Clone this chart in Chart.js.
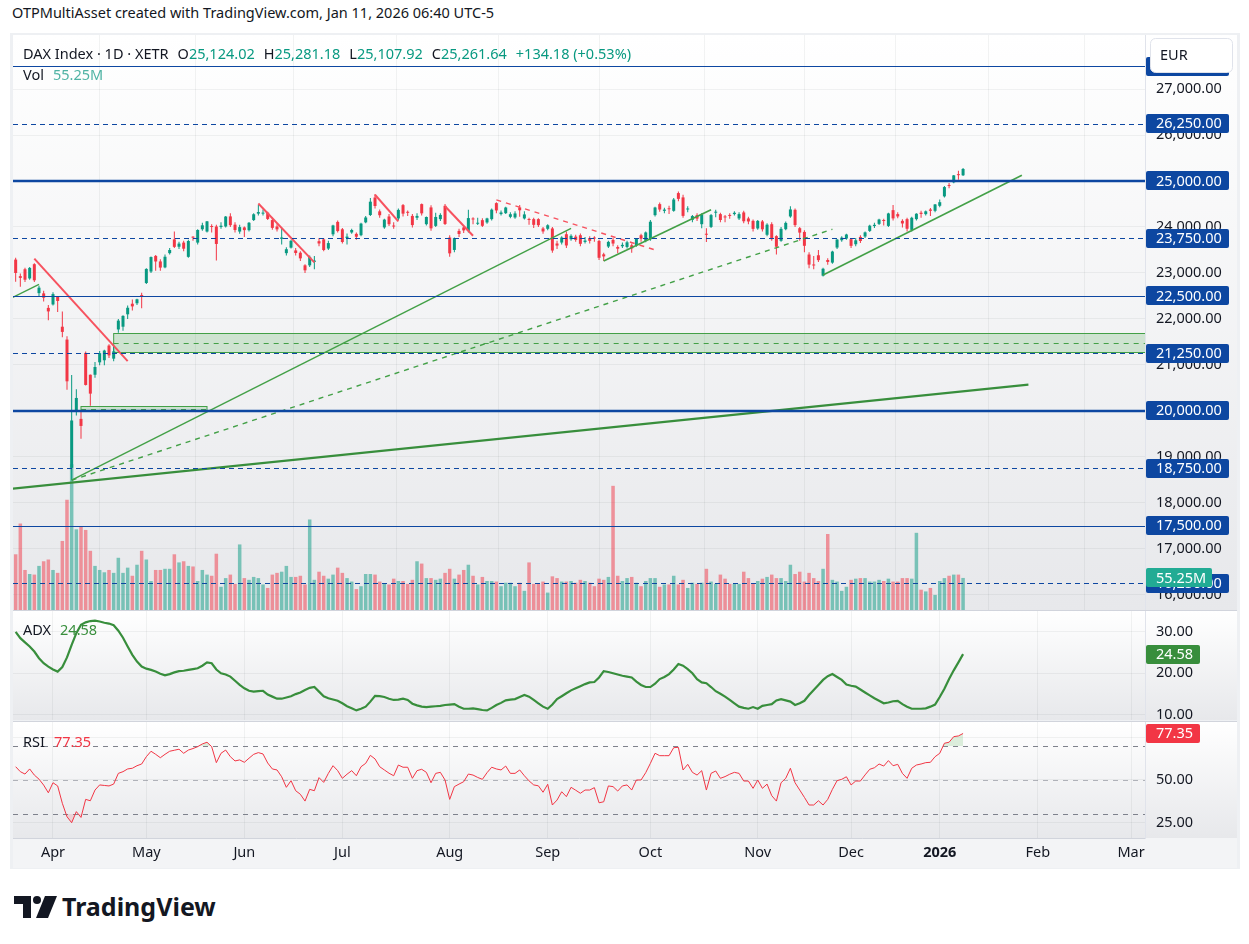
<!DOCTYPE html>
<html>
<head>
<meta charset="utf-8">
<title>DAX Index · 1D · XETR</title>
<script src="https://cdn.jsdelivr.net/npm/chart.js@4.4.1/dist/chart.umd.min.js"></script>
<style>
  html, body { margin: 0; padding: 0; background: #fff; }
  body { position: relative; width: 1249px; height: 944px; overflow: hidden;
         font-family: "Noto Sans", Roboto, sans-serif; color: #131722; }
  .txt { position: absolute; white-space: nowrap; line-height: 1; font-size: 14.5px; }
  .txt span { margin-left: 9px; }
  .txt span.v { margin-left: 0; }
  canvas { position: absolute; }
  .sep { position: absolute; left: 13px; width: 1224px; height: 1px; background: #d1d4dc; }
</style>
</head>
<body>
<div class="txt" style="left:12px; top:5px;">OTPMultiAsset created with TradingView.com, Jan 11, 2026 06:40 UTC-5</div>
<div style="position:absolute; left:10px; top:33px; width:1230px; height:836px; background:#eef0f3;"></div>

<canvas id="priceChart" width="1224" height="575" style="left:13px; top:35px; width:1224px; height:575px;"></canvas>
<div class="sep" style="top:610px;"></div>
<canvas id="adxChart" width="1224" height="109" style="left:13px; top:611px; width:1224px; height:109px;"></canvas>
<div class="sep" style="top:721px;"></div>
<canvas id="rsiChart" width="1224" height="146" style="left:13px; top:722px; width:1224px; height:146px;"></canvas>

<div class="txt" style="left:23px; top:46px;">DAX Index · 1D · XETR<span>O</span><span class="v" style="color:#089981">25,124.02</span><span>H</span><span class="v" style="color:#089981">25,281.18</span><span>L</span><span class="v" style="color:#089981">25,107.92</span><span>C</span><span class="v" style="color:#089981">25,261.64</span><span style="color:#089981">+134.18 (+0.53%)</span></div>
<div class="txt" style="left:23px; top:67px;">Vol<span style="color:#4fb3a4">55.25M</span></div>
<div class="txt" style="left:23px; top:622px;">ADX<span style="color:#388e3c">24.58</span></div>
<div class="txt" style="left:23px; top:734px;">RSI<span style="color:#f23645">77.35</span></div>

<svg style="position:absolute; left:14px; top:896px;" width="46" height="22" viewBox="0 0 46 22">
  <path d="M0 0h17v22h-8V8H0z" fill="#131722"/>
  <circle cx="23" cy="4" r="4" fill="#131722"/>
  <path d="M31 0h12l-9 22H22z" fill="#131722"/>
</svg>
<div class="txt" style="left:62px; top:894px; font-size:25px; font-weight:700;">TradingView</div>

<script>
// ---- data ----
var firstSession = '2025-03-20';
var closedDays = ['2025-04-18', '2025-04-21', '2025-05-01', '2025-12-24', '2025-12-25',
                  '2025-12-26', '2025-12-31', '2026-01-01'];
var monthNames = ['Jan', 'Feb', 'Mar', 'Apr', 'May', 'Jun', 'Jul', 'Aug', 'Sep', 'Oct', 'Nov', 'Dec'];

var opens = [
  23290, 22930, 23080, 22880, 23190, 22560, 22555, 22240, 22314, 22480,
  21830, 21550, 18760, 20000, 19825, 21260, 20785, 20785, 21055, 21100,
  21420, 21135, 21770, 21830, 22100, 22330, 22340, 22510, 22780, 23030,
  23370, 23250, 23120, 23430, 23730, 23570, 23660, 23350, 23780, 23660,
  23950, 23900, 24020, 24010, 24000, 24010, 24230, 24050, 23900, 23990,
  23930, 24150, 24290, 24290, 24310, 24150, 24010, 23740, 23430, 23550,
  23490, 23440, 23165, 23165, 23240, 23690, 23730, 23530, 23840, 24110,
  23950, 23760, 23880, 23850, 23820, 24100, 24260, 24640, 24340, 23990,
  24228, 24020, 24185, 24475, 24320, 24240, 24200, 24497, 24060, 24425,
  24023, 24170, 24460, 23770, 23500, 23914, 23990, 23914, 24170, 24070,
  24148, 24098, 24170, 24519, 24280, 24300, 24220, 24207, 24425, 24185,
  24170, 24170, 24170, 23967, 23960, 23967, 23640, 23661, 23842, 23733,
  23790, 23820, 23674, 23760, 23770, 23696, 23405, 23574, 23718, 23565,
  23580, 23565, 23602, 23602, 23820, 23696, 23733, 24257, 24497, 24350,
  24400, 24351, 24737, 24643, 24380, 24154, 24257, 24060, 23840, 24001,
  24310, 24279, 24220, 24250, 24280, 24185, 24316, 24185, 24133, 23967,
  24120, 23830, 24060, 23800, 23700, 23951, 24228, 24373, 23973, 23892,
  23400, 23180, 23384, 22940, 23281, 23224, 23552, 23711, 23748, 23733,
  23624, 23783, 23792, 23914, 24020, 24067, 24150, 24023, 24366, 24279,
  24133, 24170, 23936, 24170, 24310, 24279, 24380, 24351, 24460, 24665,
  24910, 24971, 25140, 25124.02
];
var highs = [
  23330, 22990, 23110, 23130, 23210, 22720, 22610, 22300, 22580, 22500,
  22160, 21620, 20780, 20470, 20020, 21290, 20790, 21060, 21300, 21330,
  21450, 21420, 22000, 22080, 22290, 22420, 22440, 22570, 23100, 23360,
  23390, 23300, 23400, 23540, 23900, 23680, 23700, 23720, 23800, 23950,
  24090, 24130, 24060, 24050, 24100, 24240, 24300, 24100, 24050, 24010,
  24110, 24300, 24480, 24380, 24330, 24200, 24060, 23990, 23560, 23720,
  23540, 23470, 23190, 23380, 23370, 23760, 23760, 23700, 24050, 24140,
  23980, 23860, 23960, 23880, 24090, 24240, 24630, 24715, 24380, 24180,
  24280, 24100, 24400, 24500, 24360, 24280, 24300, 24510, 24230, 24470,
  24310, 24300, 24500, 23820, 23770, 23960, 24020, 24372, 24210, 24200,
  24190, 24200, 24400, 24540, 24360, 24440, 24320, 24340, 24480, 24340,
  24200, 24200, 24190, 24000, 24060, 24000, 23700, 23800, 23900, 23840,
  23830, 23860, 23780, 23800, 23800, 23720, 23440, 23700, 23760, 23600,
  23660, 23700, 23640, 23760, 23850, 23900, 24150, 24440, 24530, 24420,
  24460, 24630, 24771, 24700, 24450, 24260, 24300, 24300, 23973, 24280,
  24372, 24310, 24260, 24300, 24340, 24320, 24350, 24220, 24160, 24150,
  24150, 24080, 24100, 23820, 24000, 24120, 24450, 24400, 24000, 23930,
  23450, 23370, 23500, 23110, 23320, 23480, 23740, 23800, 23850, 23760,
  23760, 23820, 23900, 24050, 24090, 24180, 24180, 24310, 24475, 24320,
  24170, 24200, 24220, 24300, 24350, 24360, 24410, 24500, 24600, 24890,
  24955, 25130, 25224, 25281.18
];
var lows = [
  22810, 22700, 22800, 22850, 22800, 22480, 22380, 21970, 22290, 22150,
  21600, 20460, 18490, 19900, 19390, 20550, 20110, 20720, 20990, 20990,
  21150, 21080, 21700, 21740, 22000, 22180, 22300, 22230, 22760, 23000,
  23050, 23050, 23100, 23400, 23540, 23520, 23470, 23330, 23700, 23620,
  23920, 23880, 23880, 23270, 23960, 23990, 24000, 23880, 23850, 23780,
  23900, 24130, 24250, 24250, 24150, 23940, 23900, 23620, 23380, 23530,
  23380, 23260, 23000, 23130, 23080, 23580, 23470, 23500, 23800, 23880,
  23640, 23620, 23850, 23720, 23800, 24080, 24240, 24400, 24200, 23960,
  24020, 23960, 24150, 24230, 24240, 23990, 24150, 24250, 24030, 23920,
  24000, 24130, 24040, 23350, 23450, 23780, 23870, 23880, 24060, 24040,
  24000, 24070, 24140, 24300, 24250, 24280, 24190, 24180, 24220, 24160,
  24050, 23980, 24000, 23850, 23930, 23440, 23520, 23620, 23540, 23700,
  23680, 23580, 23640, 23640, 23680, 23280, 23260, 23540, 23580, 23430,
  23540, 23530, 23440, 23570, 23680, 23670, 23700, 24230, 24330, 24300,
  24280, 24330, 24560, 24200, 24320, 24100, 24130, 23970, 23674, 23980,
  24210, 24100, 24100, 24180, 24250, 24150, 24080, 24060, 23900, 23940,
  23900, 23800, 23700, 23400, 23680, 23930, 24200, 24000, 23700, 23450,
  23100, 23080, 23240, 22920, 23180, 23200, 23520, 23680, 23720, 23540,
  23580, 23650, 23760, 23890, 23980, 24040, 24030, 24000, 24140, 24190,
  23990, 23900, 23900, 24140, 24200, 24250, 24240, 24320, 24430, 24640,
  24840, 24950, 25028, 25107.92
];
var closes = [
  22999, 22892, 22852, 23109, 22839, 22679, 22461, 22163, 22539, 22390,
  21717, 20642, 19790, 20280, 19671, 20563, 20374, 20954, 21254, 21311,
  21206, 21294, 21962, 22065, 22242, 22272, 22426, 22497, 23087, 23345,
  23249, 23116, 23352, 23499, 23567, 23638, 23527, 23695, 23767, 23934,
  24036, 24122, 23999, 23630, 24027, 24226, 24039, 23933, 23997, 23931,
  24091, 24276, 24324, 24304, 24174, 23980, 23948, 23771, 23516, 23699,
  23434, 23317, 23057, 23350, 23269, 23641, 23498, 23649, 24033, 23910,
  23673, 23790, 23934, 23787, 24073, 24206, 24550, 24456, 24255, 24160,
  24060, 24009, 24371, 24290, 24308, 24041, 24240, 24296, 24217, 23970,
  24218, 24262, 24065, 23426, 23758, 23847, 23925, 24193, 24163, 24082,
  24025, 24186, 24377, 24359, 24315, 24423, 24277, 24294, 24363, 24273,
  24152, 24046, 24039, 23902, 24037, 23487, 23595, 23770, 23597, 23807,
  23718, 23633, 23704, 23698, 23748, 23329, 23359, 23675, 23639, 23527,
  23611, 23666, 23534, 23739, 23745, 23881, 24114, 24423, 24379, 24378,
  24385, 24597, 24611, 24241, 24388, 24237, 24181, 24272, 23831, 24258,
  24330, 24151, 24207, 24240, 24309, 24279, 24124, 24119, 23958, 24132,
  23949, 24050, 23734, 23569, 23959, 24088, 24381, 24041, 23877, 23590,
  23181, 23162, 23278, 23091, 23239, 23465, 23726, 23768, 23836, 23589,
  23710, 23694, 23882, 24028, 24046, 24162, 24130, 24294, 24186, 24229,
  24076, 23961, 24200, 24288, 24283, 24340, 24351, 24490, 24539, 24868,
  24892, 25122, 25127, 25261.64
];
// volume in millions
var volumes = [
  96, 149, 69, 62, 61, 76, 84, 87, 69, 64,
  119, 190, 251, 139, 144, 138, 102, 76, 69, 65,
  69, 64, 90, 64, 73, 59, 78, 102, 87, 50,
  69, 69, 71, 71, 96, 82, 84, 76, 75, 50,
  69, 61, 59, 97, 40, 55, 61, 45, 113, 55,
  52, 57, 55, 44, 38, 61, 64, 66, 76, 57,
  57, 59, 44, 156, 52, 66, 59, 54, 61, 73,
  64, 55, 49, 36, 41, 62, 62, 61, 49, 45,
  44, 54, 50, 50, 45, 52, 84, 80, 55, 55,
  52, 54, 64, 71, 54, 61, 69, 78, 59, 44,
  57, 50, 50, 49, 41, 47, 47, 41, 47, 33,
  82, 45, 45, 49, 30, 58, 55, 49, 49, 50,
  47, 52, 50, 47, 41, 54, 52, 57, 214, 59,
  50, 55, 57, 47, 41, 50, 55, 55, 40, 44,
  44, 59, 44, 52, 38, 47, 45, 47, 71, 49,
  45, 61, 54, 45, 45, 45, 66, 55, 45, 50,
  54, 57, 61, 55, 55, 50, 78, 62, 66, 49,
  64, 55, 50, 71, 131, 52, 49, 33, 40, 52,
  54, 55, 55, 49, 49, 52, 50, 54, 49, 49,
  55, 55, 54, 133, 35, 32, 38, 26, 50, 55,
  59, 61, 61, 55.25
];
var adxValues = [
  29.9, 28.4, 27.4, 26.4, 25.2, 23.6, 22.4, 21.6, 20.9, 20.4,
  21.5, 23.8, 26.8, 29.6, 31.6, 32.2, 32.5, 32.6, 32.4, 32.1,
  31.9, 31.5, 30.2, 28.5, 26.4, 24.4, 22.8, 21.6, 21.1, 20.8,
  20.4, 19.9, 19.5, 19.8, 20.2, 20.5, 20.6, 20.8, 21.0, 21.2,
  21.8, 22.6, 22.4, 20.9, 20.0, 19.7, 19.2, 18.2, 17.2, 16.4,
  15.8, 15.6, 15.7, 15.8, 14.9, 14.4, 13.9, 13.9, 14.2, 14.5,
  15.0, 15.4, 16.0, 16.5, 16.7, 15.6, 14.5, 14.0, 13.7, 13.4,
  12.8, 12.1, 11.6, 11.1, 11.5, 12.0, 13.2, 14.6, 14.5, 14.3,
  13.9, 13.6, 13.7, 13.9, 13.6, 12.7, 12.3, 12.0, 11.9, 12.0,
  12.1, 12.2, 12.4, 12.5, 12.6, 12.0, 11.5, 11.5, 11.6, 11.4,
  11.2, 11.1, 11.7, 12.4, 12.9, 13.5, 13.7, 13.8, 14.3, 14.8,
  14.4, 13.6, 12.8, 12.0, 11.5, 12.5, 13.8, 14.5, 15.2, 15.9,
  16.4, 16.9, 17.4, 17.8, 17.9, 19.0, 20.5, 20.3, 20.0, 19.7,
  19.4, 19.2, 19.0, 18.0, 17.2, 16.7, 16.7, 17.5, 18.6, 19.1,
  19.8, 20.9, 22.2, 21.8, 21.0, 20.0, 18.6, 17.8, 17.6, 16.7,
  15.7, 15.1, 14.4, 13.6, 12.8, 12.0, 11.7, 11.5, 11.9, 11.5,
  12.2, 12.4, 12.6, 13.5, 13.8, 13.5, 13.2, 12.4, 12.8, 13.4,
  14.8, 16.0, 17.2, 18.4, 19.3, 19.8, 19.1, 18.4, 17.3, 17.0,
  16.8, 16.1, 15.4, 14.7, 14.0, 13.4, 12.8, 13.0, 13.3, 13.4,
  12.6, 12.0, 11.5, 11.5, 11.5, 11.6, 12.0, 12.5, 14.3, 16.3,
  18.6, 20.7, 22.6, 24.58
];
var rsiValues = [
  57.8, 54.9, 53.5, 56.5, 52.9, 50.5, 47.0, 42.5, 48.4, 46.5,
  36.3, 28.4, 24.9, 31.4, 28.0, 38.6, 37.8, 44.1, 47.1, 46.8,
  46.5, 47.6, 53.9, 54.9, 56.5, 56.9, 58.4, 59.4, 63.7, 66.9,
  65.1, 63.1, 65.1, 66.9, 67.5, 68.1, 65.7, 67.6, 68.5, 69.6,
  71.2, 72.2, 69.6, 60.2, 65.7, 67.6, 63.7, 61.2, 61.8, 60.4,
  62.8, 65.1, 66.1, 65.3, 60.0, 56.5, 55.9, 51.9, 45.7, 49.6,
  43.7, 41.6, 37.6, 44.5, 43.7, 51.4, 48.6, 53.9, 58.4, 55.5,
  51.0, 53.4, 55.5, 52.5, 57.8, 59.8, 64.5, 62.4, 57.8, 55.9,
  54.0, 52.5, 58.8, 57.5, 57.5, 51.0, 55.5, 56.3, 54.5, 48.4,
  53.9, 54.5, 50.0, 38.6, 46.1, 47.6, 49.0, 53.5, 52.9, 51.5,
  50.4, 54.3, 57.5, 56.5, 55.9, 58.2, 53.9, 53.9, 55.9, 52.5,
  49.5, 47.1, 46.6, 42.8, 47.5, 35.3, 38.2, 43.1, 40.2, 45.7,
  44.0, 42.2, 44.1, 44.1, 45.5, 36.6, 37.2, 46.5, 46.1, 43.5,
  46.5, 47.1, 44.1, 50.0, 50.0, 54.3, 59.8, 65.7, 64.3, 64.3,
  64.3, 69.0, 69.2, 55.9, 59.2, 54.5, 52.9, 55.5, 44.1, 53.9,
  55.3, 51.0, 52.0, 53.4, 54.5, 53.9, 49.4, 49.4, 45.1, 50.0,
  45.1, 47.6, 40.8, 37.6, 48.4, 51.0, 56.9, 48.4, 44.1, 39.8,
  35.3, 35.3, 37.8, 35.3, 38.6, 44.5, 49.6, 50.4, 51.9, 47.1,
  49.4, 49.4, 53.0, 56.3, 57.2, 59.4, 58.2, 61.4, 58.4, 59.2,
  53.9, 51.0, 56.9, 58.8, 59.4, 60.2, 60.4, 63.7, 65.7, 71.6,
  72.2, 75.5, 75.9, 77.35
];

var priceTicks = [16000, 17000, 18000, 19000, 20000, 21000, 22000, 23000, 24000, 25000, 26000, 27000];
var adxTicks = [10, 20, 30];
var rsiTicks = [25, 50, 75];
var rsiBands = [70, 50, 30];
var priceLevels = [27500, 26250, 25000, 23750, 22500, 21250, 20000, 18750, 17500, 16250];

// drawings: [bar index, price] anchors
var trendLines = [
  [[-1, 18305], [217, 20570]],
  [[12, 18490], [119, 23970]],
  [[12, 18490], [175, 23950]],
  [[126, 23259], [149, 24373]],
  [[173, 22954], [215.6, 25123]],
  [[-1, 22451], [5, 22753]],
  [[4, 23310], [24, 21080]],
  [[52, 24510], [64, 23230]],
  [[77, 24700], [82, 24120]],
  [[92, 24450], [98, 23810]],
  [[103, 24590], [137, 23500]]
];
var zoneFrom = [21, 14];
var zoneTo = [null, 41];
var zoneTop = [21696, 20109];
var zoneBottom = [21273, 20022];

// ---- layout / style ----
var FONT = '"Noto Sans", Roboto, sans-serif';
var FONT_SIZE = 14.5;
Chart.defaults.font.family = FONT;
Chart.defaults.font.size = FONT_SIZE;
Chart.defaults.color = '#131722';

var upColor = '#089981', downColor = '#f23645';
var gridColor = 'rgba(42, 46, 57, 0.06)';
var levelColor = '#0d47a1';
var xMin = -0.57, xMax = 241.98;

var trendStyles = [
  { color: '#388e3c', width: 2.2, dash: [] },
  { color: '#43a047', width: 1.4, dash: [] },
  { color: '#43a047', width: 1.4, dash: [5, 5] },
  { color: '#43a047', width: 1.6, dash: [] },
  { color: '#43a047', width: 1.6, dash: [] },
  { color: '#43a047', width: 1.4, dash: [] },
  { color: '#f7525f', width: 2, dash: [] },
  { color: '#f7525f', width: 2, dash: [] },
  { color: '#f7525f', width: 2, dash: [] },
  { color: '#f7525f', width: 2, dash: [] },
  { color: '#f7525f', width: 1.4, dash: [5, 5] }
];

function tradingDays(start, count) {
  var out = [];
  var d = new Date(start + 'T12:00:00Z');
  while (out.length < count) {
    var iso = d.toISOString().slice(0, 10);
    var wd = d.getUTCDay();
    if (wd !== 0 && wd !== 6 && closedDays.indexOf(iso) < 0) out.push(iso);
    d.setUTCDate(d.getUTCDate() + 1);
  }
  return out;
}
var sessions = tradingDays(firstSession, 250);
var monthTicks = [];
sessions.forEach(function (d, i) {
  if (i > 0 && d.slice(5, 7) !== sessions[i - 1].slice(5, 7)) monthTicks.push(i);
});
function monthLabel(i) {
  var d = sessions[Math.round(i)];
  var m = +d.slice(5, 7);
  return m === 1 ? d.slice(0, 4) : monthNames[m - 1];
}
function fmt(v) {
  return v.toLocaleString('en-US', { minimumFractionDigits: 2, maximumFractionDigits: 2 });
}

function timeAxis(showLabels) {
  return {
    type: 'linear', min: xMin, max: xMax, offset: false,
    afterBuildTicks: function (a) { a.ticks = monthTicks.map(function (v) { return { value: v }; }); },
    grid: { color: gridColor, drawTicks: false },
    border: { display: showLabels, color: '#d1d4dc' },
    ticks: {
      display: showLabels, padding: 6, maxRotation: 0, autoSkip: false,
      callback: function (v) { return monthLabel(v); },
      font: function (c) {
        var bold = c.tick && monthLabel(c.tick.value) === '2026';
        return { size: FONT_SIZE, weight: bold ? 'bold' : 'normal' };
      }
    },
    afterFit: function (a) { a.height = showLabels ? 30 : 0; a.paddingLeft = 0; a.paddingRight = 0; }
  };
}
function valueAxis(min, max, tickValues) {
  return {
    position: 'right', min: min, max: max,
    afterBuildTicks: function (a) { a.ticks = tickValues.map(function (v) { return { value: v }; }); },
    grid: { color: gridColor, drawTicks: false },
    border: { display: true, color: '#e0e3eb' },
    ticks: { padding: 11, color: '#131722', font: { size: FONT_SIZE }, callback: function (v) { return fmt(v); } },
    afterFit: function (a) { a.width = 92; a.paddingTop = 0; a.paddingBottom = 0; }
  };
}

var paneBackground = {
  id: 'paneBackground',
  beforeDraw: function (chart) {
    var ctx = chart.ctx, a = chart.chartArea;
    var g = ctx.createLinearGradient(0, a.top, 0, a.bottom);
    g.addColorStop(0, '#ffffff');
    g.addColorStop(1, '#e7e8eb');
    ctx.save();
    ctx.fillStyle = g;
    ctx.fillRect(0, a.top, chart.width, a.bottom - a.top);
    if (chart.height > a.bottom) {
      ctx.fillStyle = '#f3f4f6';
      ctx.fillRect(0, a.bottom, chart.width, chart.height - a.bottom);
    }
    ctx.restore();
  }
};

function tag(ctx, x, yMid, w, text, bg) {
  ctx.fillStyle = bg;
  ctx.beginPath();
  ctx.roundRect(x, Math.round(yMid - 9.5), w, 19, 2);
  ctx.fill();
  ctx.fillStyle = '#ffffff';
  ctx.font = FONT_SIZE + 'px ' + FONT;
  ctx.textAlign = 'left';
  ctx.textBaseline = 'middle';
  ctx.fillText(text, x + 10, yMid + 0.5);
}

var priceDrawings = {
  id: 'priceDrawings',
  beforeDatasetsDraw: function (chart) {
    var ctx = chart.ctx, a = chart.chartArea, xs = chart.scales.x, ys = chart.scales.y;
    ctx.save();
    ctx.beginPath(); ctx.rect(a.left, a.top, a.width, a.height); ctx.clip();
    zoneFrom.forEach(function (from, k) {
      var x1 = xs.getPixelForValue(from);
      var x2 = zoneTo[k] === null ? a.right + 2 : xs.getPixelForValue(zoneTo[k]);
      var y1 = Math.round(ys.getPixelForValue(zoneTop[k])) + 0.5;
      var y2 = Math.round(ys.getPixelForValue(zoneBottom[k])) + 0.5;
      ctx.fillStyle = 'rgba(76, 175, 80, 0.22)';
      ctx.fillRect(x1, y1, x2 - x1, y2 - y1);
      ctx.strokeStyle = '#43a047'; ctx.lineWidth = 1; ctx.setLineDash([]);
      ctx.strokeRect(x1, y1, x2 - x1, y2 - y1);
      var ym = Math.round((y1 + y2) / 2) + 0.5;
      ctx.setLineDash([5, 5]);
      ctx.beginPath(); ctx.moveTo(x1, ym); ctx.lineTo(x2, ym); ctx.stroke();
    });
    ctx.restore();
  },
  afterDatasetsDraw: function (chart) {
    var ctx = chart.ctx, a = chart.chartArea, ys = chart.scales.y;
    ctx.save();
    ctx.strokeStyle = levelColor;
    priceLevels.forEach(function (p) {
      var y = Math.round(ys.getPixelForValue(p));
      if (p % 5000 === 0) { ctx.lineWidth = 2.5; ctx.setLineDash([]); }
      else if (p % 2500 === 0) { ctx.lineWidth = 1; ctx.setLineDash([]); y += 0.5; }
      else { ctx.lineWidth = 1; ctx.setLineDash([5, 4]); y += 0.5; }
      ctx.beginPath(); ctx.moveTo(a.left, y); ctx.lineTo(a.right, y); ctx.stroke();
    });
    ctx.restore();
  },
  afterDraw: function (chart) {
    var ctx = chart.ctx, a = chart.chartArea, ys = chart.scales.y, yv = chart.scales.yVol;
    ctx.save();
    priceLevels.forEach(function (p) {
      tag(ctx, a.right + 1, ys.getPixelForValue(p), 83, fmt(p), levelColor);
    });
    tag(ctx, a.right + 1, yv.getPixelForValue(volumes[volumes.length - 1]), 66,
        volumes[volumes.length - 1].toFixed(2) + 'M', '#22ab94');
    // currency box
    ctx.fillStyle = '#ffffff';
    ctx.strokeStyle = '#e0e3eb';
    ctx.lineWidth = 1;
    ctx.beginPath(); ctx.roundRect(a.right + 5.5, 3.5, 82, 34, 5); ctx.fill(); ctx.stroke();
    ctx.fillStyle = '#131722';
    ctx.font = FONT_SIZE + 'px ' + FONT;
    ctx.textBaseline = 'middle';
    ctx.fillText('EUR', a.right + 15, 21);
    ctx.restore();
  }
};

var candleColors = closes.map(function (c, i) { return c >= opens[i] ? upColor : downColor; });
var volColors = closes.map(function (c, i) {
  return c >= opens[i] ? 'rgba(8, 153, 129, 0.5)' : 'rgba(242, 54, 69, 0.5)';
});

var priceDatasets = trendLines.map(function (pts, k) {
  return {
    type: 'line',
    data: pts.map(function (p) { return { x: p[0], y: p[1] }; }),
    borderColor: trendStyles[k].color,
    borderWidth: trendStyles[k].width,
    borderDash: trendStyles[k].dash,
    pointRadius: 0, clip: 0, order: 0
  };
});
priceDatasets.push({
  label: 'bodies',
  data: closes.map(function (c, i) { return { x: i, y: [opens[i], c] }; }),
  backgroundColor: candleColors, barThickness: 3, grouped: false, minBarLength: 1,
  inflateAmount: 0, order: 1
});
priceDatasets.push({
  label: 'wicks',
  data: closes.map(function (c, i) { return { x: i, y: [lows[i], highs[i]] }; }),
  backgroundColor: candleColors, barThickness: 1, grouped: false,
  inflateAmount: 0, order: 2
});
priceDatasets.push({
  label: 'volume',
  data: volumes.map(function (v, i) { return { x: i, y: v }; }),
  backgroundColor: volColors, barThickness: 3.5, grouped: false, yAxisID: 'yVol',
  inflateAmount: 0, order: 3
});

var common = {
  responsive: false, animation: false, events: [],
  layout: { padding: 0 },
  plugins: { legend: { display: false }, tooltip: { enabled: false } }
};

new Chart(document.getElementById('priceChart'), {
  type: 'bar',
  data: { datasets: priceDatasets },
  options: Object.assign({}, common, {
    scales: {
      x: timeAxis(false),
      y: valueAxis(15667, 28176, priceTicks),
      yVol: { display: false, min: 0, max: 991 }
    }
  }),
  plugins: [paneBackground, priceDrawings]
});

new Chart(document.getElementById('adxChart'), {
  type: 'line',
  data: {
    datasets: [{
      data: adxValues.map(function (v, i) { return { x: i, y: v }; }),
      borderColor: '#388e3c', borderWidth: 2.2, pointRadius: 0, tension: 0, clip: 0
    }]
  },
  options: Object.assign({}, common, {
    scales: { x: timeAxis(false), y: valueAxis(8.8, 34.91, adxTicks) }
  }),
  plugins: [paneBackground, {
    id: 'adxTag',
    afterDraw: function (chart) {
      var ys = chart.scales.y, v = adxValues[adxValues.length - 1];
      tag(chart.ctx, chart.chartArea.right + 1, ys.getPixelForValue(v), 54, v.toFixed(2), '#388e3c');
    }
  }]
});

new Chart(document.getElementById('rsiChart'), {
  type: 'line',
  data: {
    datasets: [{
      data: rsiValues.map(function (v, i) { return { x: i, y: v }; }),
      borderColor: '#f23645', borderWidth: 1, pointRadius: 0, tension: 0, clip: 0,
      fill: { target: { value: 70 }, above: 'rgba(76, 175, 80, 0.18)', below: 'rgba(0, 0, 0, 0)' }
    }, {
      data: rsiValues.map(function (v, i) { return { x: i, y: v }; }),
      borderWidth: 0, pointRadius: 0, tension: 0,
      fill: { target: { value: 30 }, above: 'rgba(0, 0, 0, 0)', below: 'rgba(242, 54, 69, 0.14)' }
    }]
  },
  options: Object.assign({}, common, {
    scales: { x: timeAxis(true), y: valueAxis(15.9, 84.1, rsiTicks) }
  }),
  plugins: [paneBackground, {
    id: 'rsiBands',
    beforeDatasetsDraw: function (chart) {
      var ctx = chart.ctx, a = chart.chartArea, ys = chart.scales.y;
      ctx.save();
      ctx.lineWidth = 1;
      ctx.setLineDash([5, 5]);
      rsiBands.forEach(function (b) {
        var y = Math.round(ys.getPixelForValue(b)) + 0.5;
        ctx.strokeStyle = b === 50 ? 'rgba(120, 123, 134, 0.55)' : 'rgba(120, 123, 134, 0.95)';
        ctx.beginPath(); ctx.moveTo(a.left, y); ctx.lineTo(a.right, y); ctx.stroke();
      });
      ctx.restore();
    },
    afterDraw: function (chart) {
      var ys = chart.scales.y, v = rsiValues[rsiValues.length - 1];
      tag(chart.ctx, chart.chartArea.right + 1, ys.getPixelForValue(v), 54, v.toFixed(2), '#f23645');
    }
  }]
});
</script>
</body>
</html>
